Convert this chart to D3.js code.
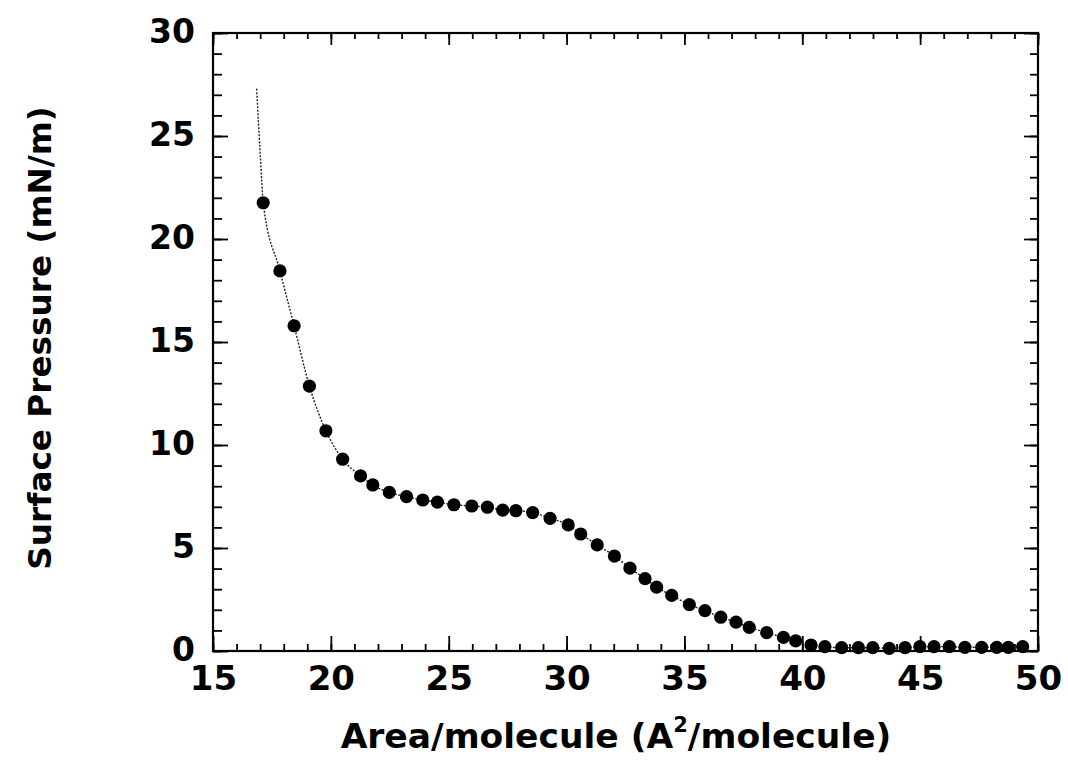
<!DOCTYPE html>
<html>
<head>
<meta charset="utf-8">
<script src="https://cdn.jsdelivr.net/npm/d3@7"></script>
<style>
  body { margin: 0; background: #fff; }
  svg text { font-family: "DejaVu Sans", "Liberation Sans", Arial, sans-serif; font-weight: bold; fill: #000; }
</style>
</head>
<body>
<script>
// isotherm points
const area = [17.13, 17.84, 18.44, 19.09, 19.79, 20.50, 21.26, 21.78, 22.48, 23.21,
    23.90, 24.52, 25.22, 25.98, 26.64, 27.29, 27.85, 28.56, 29.30, 30.07,
    30.60, 31.30, 32.03, 32.69, 33.33, 33.82, 34.46, 35.21, 35.87, 36.54,
    37.19, 37.75, 38.49, 39.20, 39.72, 40.37, 40.96, 41.67, 42.38, 42.99,
    43.69, 44.36, 44.99, 45.59, 46.24, 46.90, 47.61, 48.25, 48.74, 49.35];
const pressure = [21.76, 18.45, 15.79, 12.86, 10.69, 9.31, 8.50, 8.06, 7.70, 7.49,
    7.33, 7.23, 7.10, 7.04, 6.98, 6.84, 6.81, 6.72, 6.44, 6.12,
    5.68, 5.15, 4.61, 4.02, 3.51, 3.10, 2.70, 2.25, 1.96, 1.64,
    1.40, 1.15, 0.89, 0.66, 0.49, 0.29, 0.21, 0.16, 0.16, 0.16,
    0.13, 0.16, 0.21, 0.21, 0.21, 0.18, 0.18, 0.18, 0.18, 0.21];

// dotted curve continues above the first marker
const leadArea = [16.85, 16.93, 17.02];
const leadPressure = [27.3, 25.6, 23.8];

const xMajor = [15, 20, 25, 30, 35, 40, 45, 50];
const yMajor = [0, 5, 10, 15, 20, 25, 30];
const xMinor = d3.range(15, 51, 1);
const yMinor = d3.range(0, 31, 1);

const width = 1068, height = 761;
const margin = {top: 33, right: 30, bottom: 110, left: 213};

const svg = d3.select('body').append('svg')
    .attr('width', width)
    .attr('height', height);

const x = d3.scaleLinear().domain([15, 50]).range([margin.left, width - margin.right]);
const y = d3.scaleLinear().domain([0, 30]).range([height - margin.bottom, margin.top]);

const x0 = x.range()[0], x1 = x.range()[1];
const y0 = y.range()[0], y1 = y.range()[1];

//tick marks point inward on all four sides
function ticks(axis, pos, vals, size, label) {
    const g = svg.append('g')
        .attr('transform', pos)
        .call(axis.tickValues(vals).tickSizeInner(-size).tickSizeOuter(0)
            .tickPadding(label ? 8 : 0)
            .tickFormat(label ? d3.format('d') : ''));
    g.select('.domain').remove();
    g.selectAll('.tick line').attr('stroke', '#000').attr('stroke-width', 1.8);
    return g;
}

ticks(d3.axisBottom(x), `translate(0,${y0})`, xMinor, 7, false);
ticks(d3.axisTop(x), `translate(0,${y1})`, xMinor, 6, false);
ticks(d3.axisLeft(y), `translate(${x0},0)`, yMinor, 9, false);
ticks(d3.axisRight(y), `translate(${x1},0)`, yMinor, 8, false);

const xb = ticks(d3.axisBottom(x), `translate(0,${y0})`, xMajor, 15, true);
xb.selectAll('text').style('font-size', '34px').attr('dy', '0.92em');
ticks(d3.axisTop(x), `translate(0,${y1})`, xMajor, 12, false);
const yl = ticks(d3.axisLeft(y), `translate(${x0},0)`, yMajor, 15, true);
yl.selectAll('text').style('font-size', '33px').attr('dx', '-10px').attr('dy', '0.3em');
ticks(d3.axisRight(y), `translate(${x1},0)`, yMajor, 14, false);

//frame
svg.append('rect')
    .attr('x', x0).attr('y', y1)
    .attr('width', x1 - x0).attr('height', y0 - y1)
    .attr('fill', 'none')
    .attr('stroke', '#000')
    .attr('stroke-width', 2.2);

const pts = area.map((a, i) => [a, pressure[i]]);
const lead = leadArea.map((a, i) => [a, leadPressure[i]]);

const line = d3.line()
    .x(d => x(d[0]))
    .y(d => y(d[1]))
    .curve(d3.curveMonotoneX);

svg.append('path')
    .datum(lead.concat(pts))
    .attr('d', line)
    .attr('fill', 'none')
    .attr('stroke', '#222')
    .attr('stroke-width', 1.4)
    .attr('stroke-dasharray', '2,1.5');

svg.selectAll('circle.pt')
    .data(pts)
    .enter()
    .append('circle')
    .attr('class', 'pt')
    .attr('cx', d => x(d[0]))
    .attr('cy', d => y(d[1]))
    .attr('r', 6.6)
    .attr('fill', '#000');

//axis titles
const xt = svg.append('text')
    .attr('x', 616)
    .attr('y', 748)
    .attr('text-anchor', 'middle')
    .style('font-size', '34.5px');
xt.append('tspan').text('Area/molecule (A');
xt.append('tspan').text('2').style('font-size', '21px').attr('dy', '-16');
xt.append('tspan').text('/molecule)').attr('dy', '16');

svg.append('text')
    .attr('transform', `translate(51,338) rotate(-90)`)
    .attr('text-anchor', 'middle')
    .style('font-size', '32.7px')
    .text('Surface Pressure (mN/m)');
</script>
</body>
</html>
